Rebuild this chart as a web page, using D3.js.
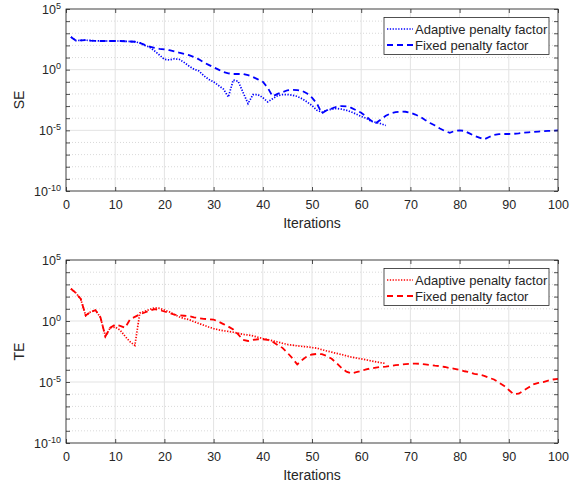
<!DOCTYPE html>
<html>
<head>
<meta charset="utf-8">
<script src="https://cdn.jsdelivr.net/npm/d3@7"></script>
<style>
body { margin: 0; background: #fff; }
text { font-family: "Liberation Sans", Arial, Helvetica, sans-serif; fill: #262626; }
</style>
</head>
<body>
<svg id="chart" width="580" height="485"></svg>
<script>
// SE values per iteration (iteration 1..n)
const seAdaptive = [
    5.0e2, 2.5e2, 2.6e2, 2.7e2, 2.5e2, 2.4e2, 2.3e2, 2.3e2, 2.3e2, 2.3e2,
    2.3e2, 2.2e2, 2.1e2, 2.0e2, 1.6e2, 1.0e2, 7.1e1, 3.5e1, 1.6e1, 7.1,
    6.3, 7.9, 7.1, 4.0, 2.0, 1.1, 7.9e-1, 3.2e-1, 1.6e-1, 1.0e-1,
    5.0e-2, 2.5e-2, 5.6e-3, 1.4e-1, 1.1e-1, 1.3e-2, 1.6e-3, 8.9e-3, 8.9e-3, 5.0e-3,
    2.2e-3, 4.0e-3, 7.1e-3, 8.9e-3, 8.9e-3, 7.9e-3, 6.3e-3, 4.0e-3, 2.2e-3, 1.1e-3,
    4.5e-4, 3.2e-4, 4.5e-4, 5.6e-4, 6.3e-4, 5.6e-4, 4.5e-4, 3.2e-4, 2.2e-4, 1.4e-4,
    1.0e-4, 5.6e-5, 4.5e-5, 3.5e-5, 2.5e-5
];
const seFixed = [
    5.0e2, 2.5e2, 2.6e2, 2.7e2, 2.5e2, 2.4e2, 2.3e2, 2.3e2, 2.3e2, 2.3e2,
    2.3e2, 2.2e2, 2.1e2, 2.0e2, 1.6e2, 1.1e2, 7.9e1, 6.3e1, 5.2e1, 4.8e1,
    4.0e1, 3.2e1, 2.5e1, 2.0e1, 1.6e1, 1.1e1, 7.1, 4.0, 2.5, 1.6,
    1.0, 6.3e-1, 5.0e-1, 4.4e-1, 4.4e-1, 4.4e-1, 3.5e-1, 2.5e-1, 1.6e-1, 1.0e-1,
    3.2e-2, 6.3e-3, 1.0e-2, 1.4e-2, 2.0e-2, 2.2e-2, 2.1e-2, 1.8e-2, 1.1e-2, 5.0e-3,
    1.6e-3, 2.5e-4, 4.5e-4, 6.3e-4, 8.9e-4, 1.0e-3, 9.5e-4, 7.1e-4, 4.5e-4, 2.8e-4,
    1.4e-4, 6.3e-5, 4.0e-5, 7.9e-5, 1.6e-4, 2.5e-4, 3.2e-4, 3.5e-4, 3.4e-4, 2.8e-4,
    2.0e-4, 1.3e-4, 7.1e-5, 4.0e-5, 2.5e-5, 1.4e-5, 8.9e-6, 6.3e-6, 8.9e-6, 1.0e-5,
    8.9e-6, 5.6e-6, 3.5e-6, 2.5e-6, 1.8e-6, 2.8e-6, 4.2e-6, 4.8e-6, 5.0e-6, 5.0e-6,
    5.2e-6, 5.6e-6, 6.3e-6, 6.8e-6, 7.4e-6, 7.9e-6, 8.5e-6, 8.9e-6, 9.5e-6, 1.0e-5
];

// TE values per iteration
const teAdaptive = [
    4.4e2, 2.0e2, 6.3e1, 2.8, 5.6, 7.6, 2.0, 5.6e-2, 2.8e-1, 3.2e-1,
    1.8e-1, 5.6e-2, 2.0e-2, 1.0e-2, 4.5, 6.3, 8.9, 1.2e1, 1.1e1, 7.9,
    5.6, 3.5, 2.2, 1.6, 1.3, 8.9e-1, 6.3e-1, 4.5e-1, 3.2e-1, 2.4e-1,
    1.9e-1, 1.6e-1, 1.4e-1, 1.2e-1, 1.0e-1, 7.9e-2, 7.1e-2, 6.0e-2, 4.7e-2, 3.7e-2,
    3.0e-2, 2.4e-2, 1.9e-2, 1.5e-2, 1.2e-2, 1.05e-2, 9.3e-3, 8.3e-3, 7.6e-3, 6.6e-3,
    5.9e-3, 4.5e-3, 3.5e-3, 2.8e-3, 2.2e-3, 1.8e-3, 1.4e-3, 1.1e-3, 9.3e-4, 7.9e-4,
    6.6e-4, 5.4e-4, 4.5e-4, 3.8e-4, 3.3e-4
];
const teFixed = [
    4.4e2, 2.0e2, 6.3e1, 2.8, 5.6, 7.6, 2.0, 5.6e-2, 2.8e-1, 5.0e-1,
    4.0e-1, 2.8e-1, 1.3, 2.2, 3.5, 5.0, 7.1, 9.5, 7.9, 6.0,
    4.5, 3.3, 2.9, 2.7, 2.5, 2.0, 1.7, 1.5, 1.4, 1.3,
    8.9e-1, 5.6e-1, 3.5e-1, 2.0e-1, 7.9e-2, 2.8e-2, 2.3e-2, 2.8e-2, 3.2e-2, 3.2e-2,
    2.8e-2, 2.0e-2, 1.1e-2, 6.3e-3, 2.5e-3, 8.9e-4, 2.8e-4, 6.3e-4, 1.3e-3, 1.8e-3,
    2.0e-3, 1.9e-3, 1.4e-3, 7.9e-4, 3.5e-4, 1.4e-4, 7.1e-5, 5.0e-5, 6.3e-5, 7.9e-5,
    1.1e-4, 1.3e-4, 1.5e-4, 1.7e-4, 1.8e-4, 2.1e-4, 2.4e-4, 2.6e-4, 2.9e-4, 3.1e-4,
    3.2e-4, 3.1e-4, 2.8e-4, 2.5e-4, 2.2e-4, 2.0e-4, 1.7e-4, 1.4e-4, 1.2e-4, 1.0e-4,
    7.6e-5, 6.3e-5, 4.7e-5, 4.0e-5, 3.2e-5, 2.2e-5, 1.6e-5, 8.9e-6, 5.0e-6, 2.2e-6,
    1.0e-6, 1.1e-6, 2.0e-6, 3.5e-6, 6.3e-6, 8.3e-6, 1.0e-5, 1.3e-5, 1.6e-5, 1.8e-5
];

const xTicks = [0, 10, 20, 30, 40, 50, 60, 70, 80, 90, 100];
const yTicks = [1e-10, 1e-9, 1e-8, 1e-7, 1e-6, 1e-5, 1e-4, 1e-3, 1e-2, 1e-1,
                1e0, 1e1, 1e2, 1e3, 1e4, 1e5];
const yMajor = [1e-10, 1e-5, 1e0, 1e5];
const legendLabels = ['Adaptive penalty factor', 'Fixed penalty factor'];

const svg = d3.select('#chart');
const x = d3.scaleLinear().domain([0, 100]).range([66, 558]);

function toPoints(arr) {
    return arr.map((v, i) => ({ it: i + 1, v: v }));
}

function drawPanel(top, bottom, adaptive, fixed, color, yLabel) {
    const y = d3.scaleLog().domain([1e-10, 1e5]).range([bottom, top]);
    const g = svg.append('g');
    const isMajor = d => yMajor.some(m => Math.abs(Math.log10(m) - Math.log10(d)) < 0.01);

    // grid
    g.selectAll('.minor').data(yTicks.filter(d => !isMajor(d))).join('line')
        .attr('x1', x(0)).attr('x2', x(100))
        .attr('y1', d => y(d)).attr('y2', d => y(d))
        .attr('stroke', '#cfcfcf').attr('stroke-width', 0.8)
        .attr('stroke-dasharray', '1,2');
    g.selectAll('.major').data(yMajor).join('line')
        .attr('x1', x(0)).attr('x2', x(100))
        .attr('y1', d => y(d)).attr('y2', d => y(d))
        .attr('stroke', '#e3e3e3').attr('stroke-width', 1);
    g.selectAll('.xgrid').data(xTicks).join('line')
        .attr('x1', d => x(d)).attr('x2', d => x(d))
        .attr('y1', top).attr('y2', bottom)
        .attr('stroke', '#e3e3e3').attr('stroke-width', 1);

    const line = d3.line().x(d => x(d.it)).y(d => y(d.v));

    g.append('path').datum(toPoints(fixed))
        .attr('d', line).attr('fill', 'none')
        .attr('stroke', color).attr('stroke-width', 1.8)
        .attr('stroke-dasharray', '6,4');
    g.append('path').datum(toPoints(adaptive))
        .attr('d', line).attr('fill', 'none')
        .attr('stroke', color).attr('stroke-width', 1.7)
        .attr('stroke-dasharray', '1.3,1.5');

    // axes (ticks pointing inward)
    const xb = g.append('g').attr('transform', `translate(0,${bottom})`)
        .call(d3.axisBottom(x).tickValues(xTicks).tickSizeInner(-4).tickSizeOuter(0).tickPadding(9));
    g.append('g').attr('transform', `translate(0,${top})`)
        .call(d3.axisTop(x).tickValues(xTicks).tickSizeInner(-4).tickSizeOuter(0).tickFormat(''));
    const yl = g.append('g').attr('transform', `translate(${x(0)},0)`)
        .call(d3.axisLeft(y).tickValues(yTicks).tickSizeInner(-4).tickSizeOuter(0).tickPadding(5));
    g.append('g').attr('transform', `translate(${x(100)},0)`)
        .call(d3.axisRight(y).tickValues(yTicks).tickSizeInner(-4).tickSizeOuter(0).tickFormat(''));

    g.selectAll('.domain').remove();
    g.selectAll('.tick line').attr('stroke', '#262626').attr('stroke-width', 0.8);
    xb.selectAll('text').attr('font-size', 12.5).attr('fill', '#262626');

    yl.selectAll('.tick text').each(function (d) {
        const t = d3.select(this).text('').attr('font-size', 12.5).attr('fill', '#262626');
        if (!isMajor(d)) return;
        const e = Math.round(Math.log10(d));
        t.append('tspan').text('10');
        t.append('tspan').attr('dy', '-0.55em').attr('font-size', 9)
            .text(e < 0 ? '-' + Math.abs(e) : e);
    });

    // box
    g.append('rect')
        .attr('x', x(0)).attr('y', top)
        .attr('width', x(100) - x(0)).attr('height', bottom - top)
        .attr('fill', 'none').attr('stroke', '#262626').attr('stroke-width', 0.8);

    // labels
    g.append('text')
        .attr('x', (x(0) + x(100)) / 2).attr('y', bottom + 37)
        .attr('text-anchor', 'middle').attr('font-size', 14)
        .text('Iterations');
    g.append('text')
        .attr('transform', `translate(24,${(top + bottom) / 2}) rotate(-90)`)
        .attr('text-anchor', 'middle').attr('font-size', 14)
        .text(yLabel);

    // legend
    const lx = 384, ly = top + 8.5;
    const leg = g.append('g');
    leg.append('rect').attr('x', lx).attr('y', ly).attr('width', 165).attr('height', 37)
        .attr('fill', '#fff').attr('stroke', '#262626').attr('stroke-width', 0.8);
    const dashes = ['1.3,1.5', '6,4'];
    legendLabels.forEach((lab, i) => {
        const cy = ly + 11.5 + i * 16;
        leg.append('line').attr('x1', lx + 3).attr('x2', lx + 29)
            .attr('y1', cy).attr('y2', cy)
            .attr('stroke', color).attr('stroke-width', i === 0 ? 1.7 : 1.8)
            .attr('stroke-dasharray', dashes[i]);
        leg.append('text').attr('x', lx + 31).attr('y', cy + 4.5)
            .attr('font-size', 13).text(lab);
    });
}

drawPanel(9, 191, seAdaptive, seFixed, '#0000ff', 'SE');
drawPanel(260, 443, teAdaptive, teFixed, '#ff0000', 'TE');
</script>
</body>
</html>
